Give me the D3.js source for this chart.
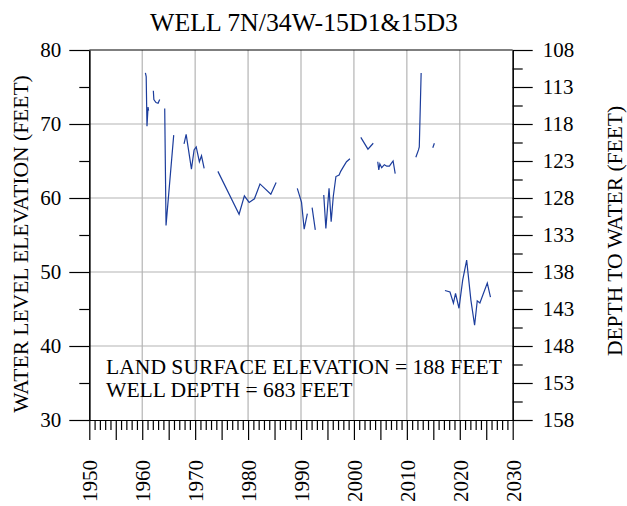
<!DOCTYPE html>
<html>
<head>
<meta charset="utf-8">
<script src="https://cdn.jsdelivr.net/npm/d3@7"></script>
<style>
  body { margin: 0; background: #fff; }
  text { font-family: "Liberation Serif", "Times New Roman", serif; fill: #000; }
</style>
</head>
<body>
<script>
// measured water levels, null marks a gap in the record
var years = [
  1960.6, 1960.75, 1960.9, 1961.1, 1961.2, null,
  1962.1, 1962.2, 1962.6, 1963.0, 1963.3, null,
  1964.25, 1964.5, 1965.95, null,
  1967.9, 1968.3, 1969.3, 1969.8, 1970.2, 1970.8, 1971.2, 1971.7, null,
  1974.3, 1978.3, 1979.3, 1980.2, 1981.2, 1982.25, 1984.3, 1985.3, null,
  1989.3, 1990.1, 1990.6, 1991.2, null,
  1992.1, 1992.7, null,
  1994.3, 1994.7, 1995.0, 1995.3, 1995.7, 1996.1, 1996.6, 1997.2, 1997.5, 1998.0, 1998.6, 1999.25, null,
  2001.3, 2002.65, 2003.65, null,
  2004.5, 2004.7, 2004.9, 2005.25, 2005.75, 2006.2, 2006.7, 2007.1, 2007.4, 2007.8, null,
  2011.7, 2012.2, 2012.35, 2012.7, null,
  2014.9, 2015.2, null,
  2017.2, 2018.15, 2018.8, 2019.2, 2019.85, 2020.55, 2021.3, 2022.1, 2022.8, 2023.3, 2023.8, 2025.2, 2025.8
];
var levels = [
  76.9, 76.4, 69.7, 72.3, 71.8, null,
  74.5, 73.3, 72.9, 72.8, 73.3, null,
  72.1, 56.3, 68.5, null,
  67.3, 68.6, 63.9, 66.5, 66.9, 64.9, 65.7, 64.0, null,
  63.6, 57.8, 60.3, 59.4, 59.9, 61.9, 60.5, 62.1, null,
  61.3, 59.4, 55.8, 57.9, null,
  58.7, 55.7, null,
  60.4, 55.9, 58.6, 61.3, 56.8, 60.2, 62.9, 63.1, 63.6, 64.2, 64.9, 65.3, null,
  68.2, 66.6, 67.4, null,
  64.9, 63.8, 64.6, 64.1, 64.5, 64.3, 64.3, 64.7, 65.0, 63.3, null,
  65.5, 66.5, 66.9, 76.9, null,
  66.8, 67.4, null,
  47.5, 47.3, 45.8, 47.1, 45.1, 48.9, 51.6, 46.2, 42.8, 46.1, 45.8, 48.5, 46.6
];
var landSurface = 188;
var elevTicks = [30, 40, 50, 60, 70, 80];
var depthTicks = [108, 113, 118, 123, 128, 133, 138, 143, 148, 153, 158];
var yearTicks = [1950, 1960, 1970, 1980, 1990, 2000, 2010, 2020, 2030];

var W = 627, H = 506;
var pLeft = 89.3, pRight = 512.7, pTop = 50, pBottom = 420;

var svg = d3.select('body').append('svg').attr('width', W).attr('height', H);

var x = d3.scaleLinear().domain([1950, 2030]).range([pLeft, pRight]);
var y = d3.scaleLinear().domain([30, 80]).range([pBottom, pTop]);
var yd = d3.scaleLinear().domain([landSurface - 30, landSurface - 80]).range([pBottom, pTop]);

// grid
svg.append('g').selectAll('line').data(yearTicks.slice(1, -1)).enter().append('line')
  .attr('x1', d => x(d)).attr('x2', d => x(d)).attr('y1', pTop).attr('y2', pBottom)
  .attr('stroke', '#b4b4b4').attr('stroke-width', 1.2);
svg.append('g').selectAll('line').data(elevTicks.slice(1, -1)).enter().append('line')
  .attr('x1', pLeft).attr('x2', pRight).attr('y1', d => y(d)).attr('y2', d => y(d))
  .attr('stroke', '#b4b4b4').attr('stroke-width', 1.2);
svg.append('line').attr('x1', pLeft).attr('x2', pRight).attr('y1', pTop).attr('y2', pTop)
  .attr('stroke', '#000').attr('stroke-width', 1.2);

var fontSize = '21px';
var styleAxis = function(g) {
  g.selectAll('path, line').attr('stroke', '#000').attr('stroke-width', 1.2);
  g.selectAll('text').style('font-size', fontSize).style('font-family', '"Liberation Serif", serif');
};

// left axis
svg.append('g').attr('transform', 'translate(' + pLeft + ',0)')
  .call(d3.axisLeft(y).tickValues(elevTicks).tickSize(20).tickSizeOuter(0).tickPadding(8))
  .call(styleAxis);
svg.append('g').attr('transform', 'translate(' + pLeft + ',0)')
  .call(d3.axisLeft(y).tickValues(d3.range(35, 80, 10)).tickSize(10).tickSizeOuter(0).tickFormat(''))
  .call(styleAxis);

// right axis
svg.append('g').attr('transform', 'translate(' + pRight + ',0)')
  .call(d3.axisRight(yd).tickValues(depthTicks).tickSize(20).tickSizeOuter(0).tickPadding(10))
  .call(styleAxis);
svg.append('g').attr('transform', 'translate(' + pRight + ',0)')
  .call(d3.axisRight(yd).tickValues(depthTicks.slice(0, -1).map(d => d + 2.5)).tickSize(10).tickSizeOuter(0).tickFormat(''))
  .call(styleAxis);

// bottom axis
svg.append('g').attr('transform', 'translate(0,' + pBottom + ')')
  .call(d3.axisBottom(x).tickValues(d3.range(1950, 2031).filter(d => d % 5 != 0)).tickSize(10).tickSizeOuter(0).tickFormat(''))
  .call(styleAxis);
var xa = svg.append('g').attr('transform', 'translate(0,' + pBottom + ')')
  .call(d3.axisBottom(x).tickValues(d3.range(1950, 2031, 5)).tickSize(20).tickSizeOuter(0)
    .tickFormat(d => d % 10 == 0 ? d : ''))
  .call(styleAxis);
xa.selectAll('text')
  .attr('transform', 'rotate(-90)')
  .attr('x', -40).attr('y', 0).attr('dy', '0.35em')
  .attr('text-anchor', 'end');

// data line
var line = d3.line()
  .defined((d, i) => years[i] != null && levels[i] != null)
  .x((d, i) => x(years[i]))
  .y((d, i) => y(levels[i]));
svg.append('path').datum(years).attr('d', line)
  .attr('fill', 'none').attr('stroke', '#1c3d9c').attr('stroke-width', 1.2);

// titles
svg.append('text').attr('x', 304).attr('y', 31).attr('text-anchor', 'middle')
  .style('font-size', '25.8px').text('WELL 7N/34W-15D1&15D3');
svg.append('text').attr('transform', 'translate(28,' + ((pTop + pBottom) / 2 + 9) + ') rotate(-90)')
  .attr('text-anchor', 'middle').style('font-size', '21.5px').text('WATER LEVEL ELEVATION (FEET)');
svg.append('text').attr('transform', 'translate(622,' + ((pTop + pBottom) / 2 - 4) + ') rotate(-90)')
  .attr('text-anchor', 'middle').style('font-size', '21.5px').text('DEPTH TO WATER (FEET)');

svg.append('text').attr('x', 106).attr('y', 374).style('font-size', '21.6px')
  .text('LAND SURFACE ELEVATION = 188 FEET');
svg.append('text').attr('x', 106).attr('y', 397).style('font-size', '21.6px')
  .text('WELL DEPTH = 683 FEET');
</script>
</body>
</html>
